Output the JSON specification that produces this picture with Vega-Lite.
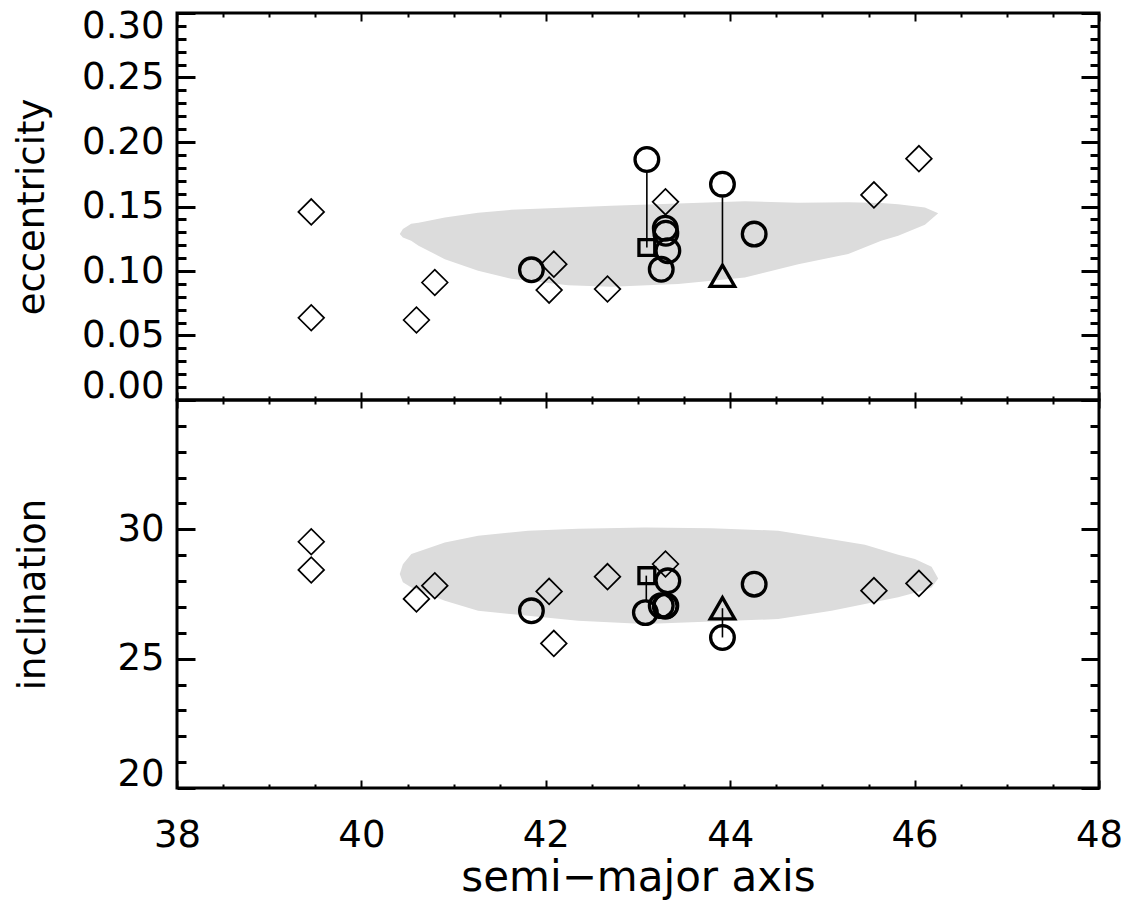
{
  "$schema": "https://vega.github.io/schema/vega-lite/v6.json",
  "background": "white",
  "padding": {"left": 12, "top": 5, "right": 20, "bottom": 3},
  "spacing": 0,
  "bounds": "flush",
  "config": {
    "view": {"stroke": "black", "strokeWidth": 3},
    "axis": {"domain": false, "grid": false, "labelFont": "DejaVu Sans", "titleFont": "DejaVu Sans", "labelColor": "black", "titleColor": "black", "titleFontWeight": "normal", "tickColor": "black", "labelFontSize": 37, "titleFontSize": 37, "labelOverlap": false, "minExtent": 0}
  },
  "datasets": {
    "cloudTop": [
      {"a": 40.416, "lo": 0.1286, "hi": 0.1286},
      {"a": 40.45, "lo": 0.126, "hi": 0.1325},
      {"a": 40.54, "lo": 0.1234, "hi": 0.1366},
      {"a": 40.62, "lo": 0.1195, "hi": 0.1375},
      {"a": 40.905, "lo": 0.1092, "hi": 0.1414},
      {"a": 41.266, "lo": 0.1002, "hi": 0.1451},
      {"a": 41.624, "lo": 0.094, "hi": 0.1474},
      {"a": 42.242, "lo": 0.0889, "hi": 0.1492},
      {"a": 42.709, "lo": 0.0878, "hi": 0.1505},
      {"a": 43.436, "lo": 0.0899, "hi": 0.1524},
      {"a": 44.159, "lo": 0.095, "hi": 0.154},
      {"a": 44.738, "lo": 0.1053, "hi": 0.153},
      {"a": 45.28, "lo": 0.1131, "hi": 0.1532},
      {"a": 45.638, "lo": 0.1234, "hi": 0.1528},
      {"a": 45.822, "lo": 0.1273, "hi": 0.1518},
      {"a": 46.112, "lo": 0.1358, "hi": 0.1492},
      {"a": 46.256, "lo": 0.1447, "hi": 0.1447}
    ],
    "cloudBot": [
      {"a": 40.416, "lo": 28.27, "hi": 28.27},
      {"a": 40.45, "lo": 27.95, "hi": 28.65},
      {"a": 40.542, "lo": 27.75, "hi": 29.05},
      {"a": 40.905, "lo": 27.24, "hi": 29.49},
      {"a": 41.266, "lo": 26.85, "hi": 29.75},
      {"a": 41.808, "lo": 26.66, "hi": 29.95},
      {"a": 42.351, "lo": 26.47, "hi": 30.02},
      {"a": 43.074, "lo": 26.34, "hi": 30.07},
      {"a": 43.797, "lo": 26.44, "hi": 30.04},
      {"a": 44.52, "lo": 26.53, "hi": 29.95},
      {"a": 45.099, "lo": 26.85, "hi": 29.62},
      {"a": 45.461, "lo": 27.11, "hi": 29.4},
      {"a": 45.822, "lo": 27.37, "hi": 29.02},
      {"a": 46.003, "lo": 27.55, "hi": 28.85},
      {"a": 46.184, "lo": 27.75, "hi": 28.55},
      {"a": 46.256, "lo": 28.1, "hi": 28.1}
    ],
    "linksTop": [
      {"a": 43.096, "v1": 0.1763, "v2": 0.1182},
      {"a": 43.916, "v1": 0.1571, "v2": 0.1063}
    ],
    "linksBot": [
      {"a": 43.09, "v1": 28.21, "v2": 27.2},
      {"a": 43.916, "v1": 26.95, "v2": 25.82}
    ],
    "ptsTop": [
      {"a": 39.456, "v": 0.1458, "t": "diamond"},
      {"a": 39.456, "v": 0.0637, "t": "diamond"},
      {"a": 40.796, "v": 0.0911, "t": "diamond"},
      {"a": 40.597, "v": 0.062, "t": "diamond"},
      {"a": 42.087, "v": 0.1053, "t": "diamond"},
      {"a": 42.036, "v": 0.0852, "t": "diamond"},
      {"a": 42.669, "v": 0.086, "t": "diamond"},
      {"a": 43.298, "v": 0.1536, "t": "diamond"},
      {"a": 45.559, "v": 0.159, "t": "diamond"},
      {"a": 46.047, "v": 0.1871, "t": "diamond"},
      {"a": 41.844, "v": 0.1009, "t": "circle"},
      {"a": 43.096, "v": 0.1864, "t": "circle"},
      {"a": 43.296, "v": 0.1331, "t": "circle"},
      {"a": 43.302, "v": 0.1293, "t": "circle"},
      {"a": 43.324, "v": 0.1157, "t": "circle"},
      {"a": 43.252, "v": 0.1013, "t": "circle"},
      {"a": 43.916, "v": 0.1673, "t": "circle"},
      {"a": 44.26, "v": 0.1286, "t": "circle"},
      {"a": 43.096, "v": 0.1182, "t": "square"},
      {"a": 43.916, "v": 0.0963, "t": "triangle"}
    ],
    "ptsBot": [
      {"a": 39.456, "v": 29.52, "t": "diamond"},
      {"a": 39.456, "v": 28.43, "t": "diamond"},
      {"a": 40.597, "v": 27.31, "t": "diamond"},
      {"a": 40.796, "v": 27.82, "t": "diamond"},
      {"a": 42.036, "v": 27.6, "t": "diamond"},
      {"a": 42.087, "v": 25.59, "t": "diamond"},
      {"a": 42.669, "v": 28.17, "t": "diamond"},
      {"a": 43.298, "v": 28.66, "t": "diamond"},
      {"a": 45.559, "v": 27.63, "t": "diamond"},
      {"a": 46.047, "v": 27.91, "t": "diamond"},
      {"a": 41.844, "v": 26.85, "t": "circle"},
      {"a": 43.08, "v": 26.78, "t": "circle"},
      {"a": 43.324, "v": 28.01, "t": "circle"},
      {"a": 43.252, "v": 27.05, "t": "circle"},
      {"a": 43.296, "v": 27.03, "t": "circle"},
      {"a": 43.302, "v": 27.05, "t": "circle"},
      {"a": 43.916, "v": 25.82, "t": "circle"},
      {"a": 44.26, "v": 27.88, "t": "circle"},
      {"a": 43.096, "v": 28.21, "t": "square"},
      {"a": 43.916, "v": 26.95, "t": "triangle"}
    ]
  },
  "vconcat": [
    {
      "width": 922,
      "height": 387,
      "resolve": {"axis": {"x": "independent", "y": "independent"}},
      "layer": [
        {
          "data": {"name": "cloudTop"},
          "mark": {"type": "area", "fill": "#dcdcdc", "stroke": null},
          "encoding": {
            "x": {"field": "a", "type": "quantitative", "scale": {"domain": [38, 48], "nice": false, "zero": false},
              "axis": {"orient": "bottom", "values": [38,38.5,39,39.5,40,40.5,41,41.5,42,42.5,43,43.5,44,44.5,45,45.5,46,46.5,47,47.5,48], "labels": false, "title": null, "labelFlush": false, "labelPadding": 0, "tickWidth": 2, "tickSize": {"condition": {"test": "datum.value % 2 === 0", "value": -8}, "value": -4}}},
            "y": {"field": "lo", "type": "quantitative", "scale": {"domain": [0, 0.3], "nice": false, "zero": false},
              "axis": {"orient": "left", "values": [0,0.01,0.02,0.03,0.04,0.05,0.06,0.07,0.08,0.09,0.1,0.11,0.12,0.13,0.14,0.15,0.16,0.17,0.18,0.19,0.2,0.21,0.22,0.23,0.24,0.25,0.26,0.27,0.28,0.29,0.3], "title": "eccentricity", "labelExpr": "round(datum.value*100) % 5 === 0 ? format(datum.value, '.2f') : ''", "labelFlush": true, "labelFlushOffset": 5, "labelPadding": 31, "titlePadding": 30, "tickWidth": 3, "tickSize": {"condition": {"test": "round(datum.value*100) % 5 === 0", "value": -18}, "value": -9}}},
            "y2": {"field": "hi"}
          }
        },
        {
          "data": {"name": "linksTop"},
          "mark": {"type": "rule", "strokeWidth": 1.6, "color": "black"},
          "encoding": {
            "x": {"field": "a", "type": "quantitative",
              "axis": {"orient": "top", "values": [38,38.5,39,39.5,40,40.5,41,41.5,42,42.5,43,43.5,44,44.5,45,45.5,46,46.5,47,47.5,48], "labels": false, "title": null, "labelPadding": 0, "tickWidth": 2, "tickSize": {"condition": {"test": "datum.value % 2 === 0", "value": -8}, "value": -4}}},
            "y": {"field": "v1", "type": "quantitative",
              "axis": {"orient": "right", "values": [0,0.01,0.02,0.03,0.04,0.05,0.06,0.07,0.08,0.09,0.1,0.11,0.12,0.13,0.14,0.15,0.16,0.17,0.18,0.19,0.2,0.21,0.22,0.23,0.24,0.25,0.26,0.27,0.28,0.29,0.3], "labels": false, "title": null, "labelPadding": 0, "tickWidth": 3, "tickSize": {"condition": {"test": "round(datum.value*100) % 5 === 0", "value": -18}, "value": -9}}},
            "y2": {"field": "v2"}
          }
        },
        {
          "data": {"name": "ptsTop"},
          "transform": [{"filter": "datum.t === 'diamond'"}],
          "mark": {"type": "point", "shape": "diamond", "size": 660, "strokeWidth": 1.7, "color": "black", "filled": false, "opacity": 1},
          "encoding": {"x": {"field": "a", "type": "quantitative", "axis": null}, "y": {"field": "v", "type": "quantitative", "axis": null}}
        },
        {
          "data": {"name": "ptsTop"},
          "transform": [{"filter": "datum.t === 'circle'"}],
          "mark": {"type": "point", "shape": "circle", "size": 560, "strokeWidth": 3.3, "color": "black", "filled": false, "opacity": 1},
          "encoding": {"x": {"field": "a", "type": "quantitative", "axis": null}, "y": {"field": "v", "type": "quantitative", "axis": null}}
        },
        {
          "data": {"name": "ptsTop"},
          "transform": [{"filter": "datum.t === 'square'"}],
          "mark": {"type": "point", "shape": "square", "size": 250, "strokeWidth": 3.3, "color": "black", "filled": false, "opacity": 1},
          "encoding": {"x": {"field": "a", "type": "quantitative", "axis": null}, "y": {"field": "v", "type": "quantitative", "axis": null}}
        },
        {
          "data": {"name": "ptsTop"},
          "transform": [{"filter": "datum.t === 'triangle'"}],
          "mark": {"type": "point", "shape": "triangle-up", "size": 600, "strokeWidth": 3.3, "color": "black", "filled": false, "opacity": 1},
          "encoding": {"x": {"field": "a", "type": "quantitative", "axis": null}, "y": {"field": "v", "type": "quantitative", "axis": null}}
        }
      ]
    },
    {
      "width": 922,
      "height": 388,
      "resolve": {"axis": {"x": "independent", "y": "independent"}},
      "layer": [
        {
          "data": {"name": "cloudBot"},
          "mark": {"type": "area", "fill": "#dcdcdc", "stroke": null},
          "encoding": {
            "x": {"field": "a", "type": "quantitative", "scale": {"domain": [38, 48], "nice": false, "zero": false},
              "axis": {"orient": "bottom", "values": [38,38.5,39,39.5,40,40.5,41,41.5,42,42.5,43,43.5,44,44.5,45,45.5,46,46.5,47,47.5,48], "title": "semi−major axis", "titleFontSize": 42, "labelExpr": "datum.value % 2 === 0 ? format(datum.value, 'd') : ''", "labelFlush": false, "labelPadding": 37, "titlePadding": 0, "tickWidth": 2, "tickSize": {"condition": {"test": "datum.value % 2 === 0", "value": -8}, "value": -4}}},
            "y": {"field": "lo", "type": "quantitative", "scale": {"domain": [20, 35], "nice": false, "zero": false},
              "axis": {"orient": "left", "values": [20,21,22,23,24,25,26,27,28,29,30,31,32,33,34,35], "title": "inclination", "labelExpr": "datum.value % 5 === 0 && datum.value < 35 ? format(datum.value, 'd') : ''", "labelFlush": true, "labelFlushOffset": 5, "labelPadding": 31, "titlePadding": 64, "tickWidth": 3, "tickSize": {"condition": {"test": "datum.value % 5 === 0", "value": -18}, "value": -9}}},
            "y2": {"field": "hi"}
          }
        },
        {
          "data": {"name": "linksBot"},
          "mark": {"type": "rule", "strokeWidth": 1.6, "color": "black"},
          "encoding": {
            "x": {"field": "a", "type": "quantitative",
              "axis": {"orient": "top", "values": [38,38.5,39,39.5,40,40.5,41,41.5,42,42.5,43,43.5,44,44.5,45,45.5,46,46.5,47,47.5,48], "labels": false, "title": null, "labelPadding": 0, "tickWidth": 2, "tickSize": {"condition": {"test": "datum.value % 2 === 0", "value": -8}, "value": -4}}},
            "y": {"field": "v1", "type": "quantitative",
              "axis": {"orient": "right", "values": [20,21,22,23,24,25,26,27,28,29,30,31,32,33,34,35], "labels": false, "title": null, "labelPadding": 0, "tickWidth": 3, "tickSize": {"condition": {"test": "datum.value % 5 === 0", "value": -18}, "value": -9}}},
            "y2": {"field": "v2"}
          }
        },
        {
          "data": {"name": "ptsBot"},
          "transform": [{"filter": "datum.t === 'diamond'"}],
          "mark": {"type": "point", "shape": "diamond", "size": 660, "strokeWidth": 1.7, "color": "black", "filled": false, "opacity": 1},
          "encoding": {"x": {"field": "a", "type": "quantitative", "axis": null}, "y": {"field": "v", "type": "quantitative", "axis": null}}
        },
        {
          "data": {"name": "ptsBot"},
          "transform": [{"filter": "datum.t === 'circle'"}],
          "mark": {"type": "point", "shape": "circle", "size": 560, "strokeWidth": 3.3, "color": "black", "filled": false, "opacity": 1},
          "encoding": {"x": {"field": "a", "type": "quantitative", "axis": null}, "y": {"field": "v", "type": "quantitative", "axis": null}}
        },
        {
          "data": {"name": "ptsBot"},
          "transform": [{"filter": "datum.t === 'square'"}],
          "mark": {"type": "point", "shape": "square", "size": 250, "strokeWidth": 3.3, "color": "black", "filled": false, "opacity": 1},
          "encoding": {"x": {"field": "a", "type": "quantitative", "axis": null}, "y": {"field": "v", "type": "quantitative", "axis": null}}
        },
        {
          "data": {"name": "ptsBot"},
          "transform": [{"filter": "datum.t === 'triangle'"}],
          "mark": {"type": "point", "shape": "triangle-up", "size": 600, "strokeWidth": 3.3, "color": "black", "filled": false, "opacity": 1},
          "encoding": {"x": {"field": "a", "type": "quantitative", "axis": null}, "y": {"field": "v", "type": "quantitative", "axis": null}}
        }
      ]
    }
  ]
}
